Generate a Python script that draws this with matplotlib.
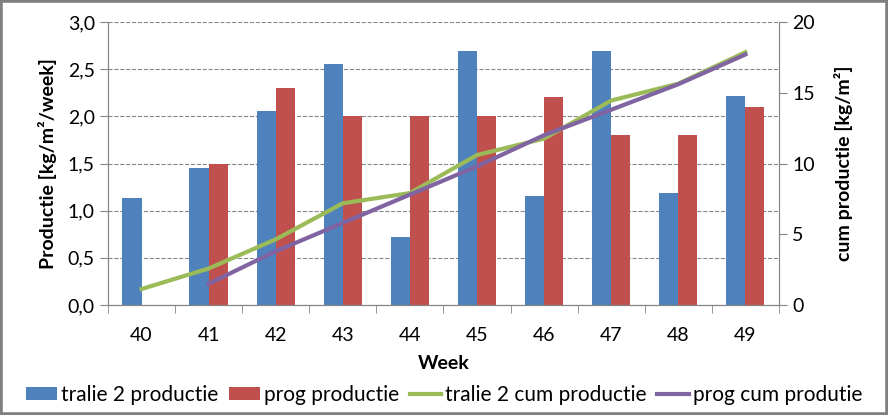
import numpy as np
import matplotlib
matplotlib.use("Agg")
from matplotlib import pyplot as plt
from matplotlib.patches import Rectangle

plt.rcParams['font.family'] = ['Lato', 'DejaVu Sans']

# data
weeks = ['40', '41', '42', '43', '44', '45', '46', '47', '48', '49']
tralie_prod = [1.13, 1.45, 2.06, 2.55, 0.72, 2.69, 1.16, 2.69, 1.19, 2.22]
prog_prod = [np.nan, 1.5, 2.3, 2.0, 2.0, 2.0, 2.2, 1.8, 1.8, 2.1]
tralie_cum = [1.13, 2.58, 4.64, 7.19, 7.91, 10.60, 11.76, 14.45, 15.64, 17.86]
prog_cum = [np.nan, 1.5, 3.8, 5.8, 7.8, 9.8, 12.0, 13.8, 15.6, 17.7]

blue = '#4F81BD'
red = '#C0504D'
green = '#9BBB59'
purple = '#8064A2'

fig = plt.figure(figsize=(8.88, 4.15), dpi=100)
fig.patches.append(Rectangle((0, 0), 1, 1, transform=fig.transFigure,
                             fill=False, edgecolor='#7f7f7f', linewidth=4))
ax = fig.add_axes([0.1216, 0.265, 0.7555, 0.682])
ax2 = ax.twinx()

x = np.arange(len(weeks))
w = 0.285
ax.bar(x - w / 2, tralie_prod, w, color=blue, label='tralie 2 productie', zorder=2)
ax.bar(x + w / 2, prog_prod, w, color=red, label='prog productie', zorder=2)
ax2.plot(x, tralie_cum, color=green, lw=3, label='tralie 2 cum productie')
ax2.plot(x, prog_cum, color=purple, lw=3, label='prog cum produtie')

ax.set_xlim(-0.5, len(weeks) - 0.5)
ax.set_ylim(0, 3.0)
ax2.set_ylim(0, 20)
ax.set_yticks(np.arange(0, 3.01, 0.5))
ax.set_yticklabels([('%.1f' % v).replace('.', ',') for v in np.arange(0, 3.01, 0.5)])
ax2.set_yticks(np.arange(0, 21, 5))

ax.set_xticks(x)
ax.set_xticklabels(weeks)
ax.set_xticks(np.arange(-0.5, len(weeks), 1), minor=True)
ax.tick_params(axis='x', which='major', length=0, labelsize=14, pad=16)
ax.tick_params(axis='x', which='minor', length=6, color='#868686')
ax.tick_params(axis='y', labelsize=14, length=6, color='#868686')
ax2.tick_params(axis='y', labelsize=14, length=6, color='#868686')

ax.grid(axis='y', linestyle='--', color='#868686', linewidth=0.8, zorder=0)
for a in (ax, ax2):
    a.spines['top'].set_visible(False)
    for s in ('left', 'right', 'bottom'):
        a.spines[s].set_color('#868686')

ax.set_xlabel('Week', fontsize=14, fontweight='bold', labelpad=8)
ax.set_ylabel('Productie [kg/m²/week]', fontsize=14, fontweight='bold', labelpad=8)
ax2.set_ylabel('cum productie [kg/m²]', fontsize=14, fontweight='bold', labelpad=14)

h1, l1 = ax.get_legend_handles_labels()
h2, l2 = ax2.get_legend_handles_labels()
fig.legend(h1 + h2, l1 + l2, loc='lower center', bbox_to_anchor=(0.5, -0.02),
           ncol=4, frameon=False, handlelength=1.5, handleheight=0.6,
           handletextpad=0.2, columnspacing=0.5, fontsize=15)

fig.savefig('out.png', dpi=100)
